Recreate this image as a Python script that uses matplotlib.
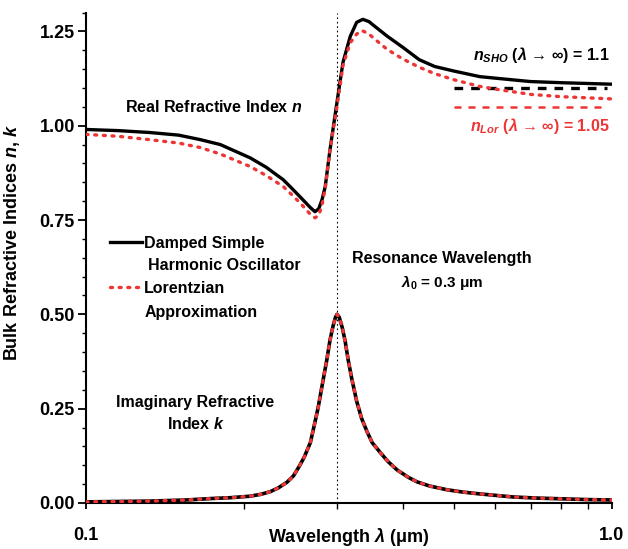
import matplotlib.pyplot as plt
from matplotlib.lines import Line2D

plt.rcParams['font.family'] = ['Liberation Sans', 'DejaVu Sans']
plt.rcParams['font.weight'] = 'bold'
plt.rcParams['mathtext.fontset'] = 'custom'
plt.rcParams['mathtext.rm'] = 'Liberation Sans:bold'
plt.rcParams['mathtext.it'] = 'Liberation Sans:bold:italic'
plt.rcParams['mathtext.bf'] = 'Liberation Sans:bold'

# --- valeurs ---
# indice réel n, oscillateur harmonique amorti
lam_n_sho = [0.100, 0.115, 0.132, 0.150, 0.165, 0.180, 0.205, 0.220, 0.237, 0.245,
             0.255, 0.262, 0.267, 0.2725, 0.277, 0.281, 0.285, 0.291, 0.300, 0.308,
             0.318, 0.327, 0.336, 0.345, 0.355, 0.374, 0.400, 0.430, 0.460, 0.500,
             0.561, 0.600, 0.700, 0.800, 1.000]
n_sho = [0.990, 0.987, 0.982, 0.975, 0.963, 0.950, 0.915, 0.890, 0.857, 0.837,
         0.812, 0.795, 0.783, 0.772, 0.780, 0.804, 0.839, 0.937, 1.062, 1.168,
         1.237, 1.274, 1.282, 1.276, 1.262, 1.237, 1.208, 1.175, 1.157, 1.145,
         1.130, 1.126, 1.117, 1.114, 1.110]

# indice réel n, approximation lorentzienne
lam_n_lor = [0.100, 0.115, 0.132, 0.150, 0.165, 0.180, 0.205, 0.220, 0.237, 0.245,
             0.255, 0.262, 0.267, 0.2725, 0.277, 0.281, 0.285, 0.291, 0.300, 0.308,
             0.318, 0.327, 0.335, 0.345, 0.355, 0.374, 0.400, 0.430, 0.460, 0.500,
             0.561, 0.600, 0.700, 0.800, 1.000]
n_lor = [0.977, 0.972, 0.963, 0.954, 0.942, 0.925, 0.892, 0.868, 0.839, 0.820,
         0.796, 0.778, 0.765, 0.756, 0.762, 0.790, 0.835, 0.937, 1.050, 1.160,
         1.220, 1.243, 1.252, 1.243, 1.228, 1.202, 1.177, 1.155, 1.138, 1.122,
         1.104, 1.097, 1.083, 1.077, 1.071]

# indice imaginaire k (les deux modèles se superposent)
lam_k = [0.100, 0.115, 0.132, 0.155, 0.174, 0.188, 0.205, 0.215, 0.224, 0.232,
         0.241, 0.248, 0.255, 0.260, 0.267, 0.271, 0.276, 0.281, 0.287, 0.291,
         0.295, 0.298, 0.300, 0.303, 0.307, 0.311, 0.315, 0.320, 0.327, 0.334,
         0.342, 0.350, 0.362, 0.375, 0.390, 0.410, 0.426, 0.450, 0.486, 0.520,
         0.561, 0.648, 0.720, 0.807, 0.900, 1.000]
k_sho = [0.003, 0.004, 0.005, 0.008, 0.012, 0.014, 0.018, 0.023, 0.030, 0.040,
         0.055, 0.072, 0.100, 0.122, 0.160, 0.200, 0.250, 0.310, 0.380, 0.432,
         0.470, 0.492, 0.500, 0.492, 0.465, 0.428, 0.380, 0.330, 0.270, 0.225,
         0.190, 0.160, 0.135, 0.110, 0.088, 0.068, 0.056, 0.045, 0.035, 0.029,
         0.024, 0.016, 0.013, 0.011, 0.009, 0.008]
k_lor = [0.003, 0.004, 0.005, 0.008, 0.012, 0.014, 0.018, 0.023, 0.030, 0.040,
         0.055, 0.072, 0.100, 0.122, 0.160, 0.200, 0.250, 0.310, 0.380, 0.432,
         0.470, 0.492, 0.500, 0.492, 0.465, 0.428, 0.380, 0.330, 0.270, 0.225,
         0.190, 0.160, 0.135, 0.110, 0.088, 0.068, 0.056, 0.045, 0.035, 0.029,
         0.024, 0.016, 0.013, 0.011, 0.009, 0.008]

lam0 = 0.3
n_inf_sho = 1.1
n_inf_lor = 1.05
lam_asym = [0.50, 0.98]

red = '#ee3535'

fig = plt.figure(figsize=(6.28, 5.49), dpi=100)
ax = fig.add_axes([0.137, 0.0838, 0.8375, 0.8934])

ax.axvline(lam0, color='black', lw=0.8, ls=(0, (1.5, 2.5)), zorder=1)

ax.plot(lam_n_sho, n_sho, color='black', lw=2.4, solid_joinstyle='round', zorder=3)
ax.plot(lam_n_lor, n_lor, color=red, lw=2.4, ls=(0, (0.6, 2.0)),
        dash_capstyle='round', zorder=4)
ax.plot(lam_k, k_sho, color='black', lw=2.6, solid_joinstyle='round', zorder=3)
ax.plot(lam_k, k_lor, color=red, lw=2.4, ls=(0, (0.6, 2.0)),
        dash_capstyle='round', zorder=4)

ax.plot(lam_asym, [n_inf_sho] * 2, color='black', lw=2.4, ls=(0, (2.6, 2.4)), zorder=3)
ax.plot(lam_asym, [n_inf_lor] * 2, color=red, lw=1.8, ls=(0, (2.8, 2.8)), zorder=3)

ax.set_xscale('log')
ax.set_xlim(0.1, 1.0)
ax.set_ylim(0, 1.30)
ax.set_xticks([0.1, 1.0])
ax.set_xticklabels(['0.1', '1.0'])
ax.set_xticks([0.2, 0.3, 0.4, 0.5, 0.6, 0.7, 0.8, 0.9], minor=True)
ax.set_xticklabels([], minor=True)
ax.set_yticks([0, 0.25, 0.5, 0.75, 1.0, 1.25])
ax.set_yticklabels(['0.00', '0.25', '0.50', '0.75', '1.00', '1.25'])
ax.set_yticks([i * 0.05 for i in range(27)], minor=True)

for s in ['top', 'right']:
    ax.spines[s].set_visible(False)
for s in ['left', 'bottom']:
    ax.spines[s].set_linewidth(1.5)

ax.tick_params(axis='y', which='major', length=6, width=1.3, labelsize=13, pad=2)
ax.tick_params(axis='y', which='minor', length=3, width=1.0)
ax.tick_params(axis='x', which='major', length=4, width=1.3, labelsize=13, pad=13)
ax.tick_params(axis='x', which='minor', length=4, width=1.0)

ax.set_xlabel(r'Wavelength $\lambda$ (μm)', fontsize=13, fontweight='bold')
ax.set_ylabel(r'Bulk Refractive Indices $n$, $k$', fontsize=13, fontweight='bold')
ax.xaxis.set_label_coords(0.5, -0.046)
ax.yaxis.set_label_coords(-0.121, 0.53)

tf = ax.transAxes
def fx(px):
    return (px - 86) / 526
def fy(py):
    return (503 - py) / 490.5

ax.text(fx(214), fy(107), r'Real Refractive Index $n$', transform=tf,
        ha='center', va='center', fontsize=11.5)
ax.text(fx(195), fy(403), 'Imaginary Refractive', transform=tf,
        ha='center', va='center', fontsize=11.5)
ax.text(fx(196), fy(424), r'Index $k$', transform=tf,
        ha='center', va='center', fontsize=11.5)
ax.text(fx(442), fy(258), 'Resonance Wavelength', transform=tf,
        ha='center', va='center', fontsize=11.5)
ax.text(fx(442), fy(282), r'$\lambda_0$ = 0.3 μm', transform=tf,
        ha='center', va='center', fontsize=11)
ax.text(fx(610), fy(55), r'$n_{SHO}$ ($\lambda$ → ∞) = 1.1', transform=tf,
        ha='right', va='center', fontsize=11.5)
ax.text(fx(610), fy(126), r'$n_{Lor}$ ($\lambda$ → ∞) = 1.05', transform=tf,
        ha='right', va='center', fontsize=11.5, color=red)

# légende dessinée à la main
ax.add_line(Line2D([fx(110), fx(142)], [fy(242), fy(242)], transform=tf,
                   color='black', lw=2.4))
ax.add_line(Line2D([fx(110), fx(142)], [fy(287), fy(287)], transform=tf,
                   color=red, lw=2.4, ls=(0, (0.6, 2.0)), dash_capstyle='round'))
ax.text(fx(144), fy(243), 'Damped Simple', transform=tf, ha='left', va='center', fontsize=11.5)
ax.text(fx(148), fy(265), 'Harmonic Oscillator', transform=tf, ha='left', va='center', fontsize=11.5)
ax.text(fx(144), fy(288), 'Lorentzian', transform=tf, ha='left', va='center', fontsize=11.5)
ax.text(fx(145), fy(312), 'Approximation', transform=tf, ha='left', va='center', fontsize=11.5)

plt.savefig('out.png', dpi=100)
